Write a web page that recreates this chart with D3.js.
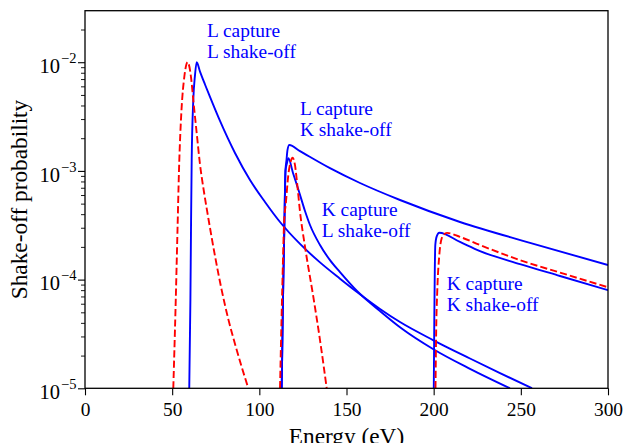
<!DOCTYPE html>
<html>
<head>
<meta charset="utf-8">
<script src="https://cdn.jsdelivr.net/npm/d3@7"></script>
<style>
  body { margin: 0; background: #fff; }
  svg text { font-family: "Liberation Serif", "Times New Roman", serif; }
</style>
</head>
<body>
<svg id="chart" width="624" height="443"></svg>
<script>
// Shake-off probability versus energy, points as [energy (eV), probability]

// L capture, L shake-off (solid)
const lCapLShake = [
  [59.8, 1.0e-5], [60.46, 6.5e-5], [60.8, 2.86e-4], [61.2, 1.26e-3], [62.12, 4.49e-3],
  [63.1, 7.62e-3], [64.07, 1.0e-2], [65.97, 8.2e-3], [68.83, 6.24e-3], [71.7, 4.79e-3],
  [77.44, 2.88e-3], [86.04, 1.46e-3], [94.65, 8.24e-4], [103.25, 5.18e-4], [111.86, 3.39e-4],
  [123.33, 2.13e-4], [134.8, 1.44e-4], [146.27, 1.02e-4], [156.02, 7.69e-5], [169.22, 5.37e-5],
  [180.69, 4.07e-5], [199.62, 2.78e-5], [220.84, 1.88e-5], [238.05, 1.38e-5], [256.4, 1.0e-5]
];

// L capture, K shake-off (solid)
const lCapKShake = [
  [112.83, 1.0e-5], [113.57, 6.5e-5], [114.32, 2.86e-4], [115.01, 1.01e-3], [115.58, 1.26e-3],
  [116.16, 1.56e-3], [117.19, 1.73e-3], [123.33, 1.52e-3], [140.53, 1.06e-3], [157.74, 7.74e-4],
  [180.69, 5.4e-4], [215.1, 3.39e-4], [255.26, 2.18e-4], [300, 1.36e-4]
];

// K capture, L shake-off (solid)
const kCapLShake = [
  [112.83, 1.0e-5], [113.57, 6.5e-5], [114.32, 2.86e-4], [115.01, 1.01e-3], [115.87, 1.18e-3],
  [116.62, 1.31e-3], [119.31, 9.57e-4], [122.47, 6.68e-4], [126.19, 4.28e-4], [129.06, 3.18e-4],
  [134.8, 2.08e-4], [140.53, 1.51e-4], [146.27, 1.17e-4], [156.02, 7.85e-5], [169.22, 5.14e-5],
  [181.66, 3.55e-5], [199.62, 2.3e-5], [220.84, 1.51e-5], [243.78, 1.0e-5]
];

// K capture, K shake-off (solid)
const kCapKShake = [
  [200.07, 1.0e-5], [200.36, 4.25e-5], [200.65, 1.22e-4], [200.94, 2.08e-4], [201.74, 2.5e-4],
  [203.23, 2.7e-4], [215.1, 2.22e-4], [226.58, 1.83e-4], [249.52, 1.39e-4], [272.47, 1.08e-4],
  [300, 8.0e-5]
];

// Dashed counterparts
const lCapLShakeAlt = [
  [50.65, 1.0e-5], [51.91, 5.25e-5], [53.06, 2.86e-4], [53.92, 1.02e-3], [55.35, 3.63e-3],
  [56.96, 7.31e-3], [58.91, 1.0e-2], [60.8, 7.31e-3], [62.12, 4.49e-3], [64.07, 2.23e-3],
  [65.96, 1.15e-3], [68.26, 6.4e-4], [70.73, 3.69e-4], [74.57, 1.65e-4], [78.41, 8.01e-5],
  [82.03, 4.44e-5], [86.04, 2.56e-5], [93.67, 1.0e-5]
];

const kCapLShakeAlt = [
  [111.86, 1.0e-5], [112.72, 4.25e-5], [113.57, 1.51e-4], [114.15, 3.18e-4], [115.29, 5.21e-4],
  [116.62, 9.16e-4], [117.99, 1.22e-3], [119.14, 1.32e-3], [120.46, 1.13e-3], [121.78, 7.41e-4],
  [123.33, 4.22e-4], [126.19, 2.01e-4], [130.95, 6.97e-5], [134.8, 2.78e-5], [138.64, 1.0e-5]
];

const kCapKShakeAlt = [
  [201.05, 1.0e-5], [201.45, 3.43e-5], [202.08, 8.0e-5], [203.23, 1.68e-4], [204.61, 2.4e-4],
  [205.93, 2.6e-4], [207.65, 2.69e-4], [215.1, 2.47e-4], [226.58, 2.08e-4], [249.52, 1.51e-4],
  [272.47, 1.16e-4], [300, 8.5e-5]
];

const xTicks = [0, 50, 100, 150, 200, 250, 300];
const yExponents = [-5, -4, -3, -2];

const svg = d3.select("#chart");
const plotLeft = 85, plotRight = 608, plotTop = 10.7, plotBottom = 388.3;

const x = d3.scaleLinear().domain([0, 300]).range([plotLeft, plotRight]);
const y = d3.scaleLog().domain([1e-5, Math.pow(10, -1.526)]).range([plotBottom, plotTop]);

svg.append("defs").append("clipPath").attr("id", "plotArea")
  .append("rect").attr("x", plotLeft).attr("y", plotTop)
  .attr("width", plotRight - plotLeft).attr("height", plotBottom - plotTop);

const line = d3.line()
  .x(d => x(d[0]))
  .y(d => y(d[1]))
  .curve(d3.curveMonotoneX);

const plot = svg.append("g").attr("clip-path", "url(#plotArea)");

[lCapLShake, lCapKShake, kCapLShake, kCapKShake].forEach(s => {
  plot.append("path").datum(s).attr("d", line)
    .attr("fill", "none").attr("stroke", "#0000ff").attr("stroke-width", 1.9)
    .attr("stroke-linejoin", "round");
});

[lCapLShakeAlt, kCapLShakeAlt, kCapKShakeAlt].forEach(s => {
  plot.append("path").datum(s).attr("d", line)
    .attr("fill", "none").attr("stroke", "#ff0000").attr("stroke-width", 1.9)
    .attr("stroke-dasharray", "7.2,3.1");
});

// Annotations
const notes = [
  { e: 70, lp: -1.765, lines: ["L capture", "L shake-off"] },
  { e: 123.3, lp: -2.486, lines: ["L capture", "K shake-off"] },
  { e: 135.8, lp: -3.415, lines: ["K capture", "L shake-off"] },
  { e: 207.5, lp: -4.096, lines: ["K capture", "K shake-off"] }
];
notes.forEach(n => {
  n.lines.forEach((t, i) => {
    svg.append("text")
      .attr("x", x(n.e))
      .attr("y", y(Math.pow(10, n.lp)) + i * 21)
      .attr("fill", "#0000ff")
      .attr("font-size", "19.4px")
      .text(t);
  });
});

// X axis
const xAxis = svg.append("g").attr("transform", `translate(0,${plotBottom})`)
  .call(d3.axisBottom(x).tickValues(xTicks).tickSize(7).tickPadding(7).tickFormat(d3.format("d")));
xAxis.select(".domain").remove();
xAxis.selectAll("line").attr("stroke", "#000").attr("stroke-width", 1.1);
xAxis.selectAll("text").attr("font-size", "19.4px").attr("fill", "#000")
  .style("font-family", '"Liberation Serif", "Times New Roman", serif');

// Y axis: major and minor ticks
const majors = yExponents.map(e => Math.pow(10, e));
const minors = [];
for (let e = -5; e <= -2; e++) {
  for (let m = 2; m <= 9; m++) {
    const v = m * Math.pow(10, e);
    if (v <= y.domain()[1]) minors.push(v);
  }
}
const yMajor = svg.append("g").attr("transform", `translate(${plotLeft},0)`)
  .call(d3.axisLeft(y).tickValues(majors).tickSize(7).tickFormat(""));
yMajor.select(".domain").remove();
yMajor.selectAll("line").attr("stroke", "#000").attr("stroke-width", 1.1);

const yMinor = svg.append("g").attr("transform", `translate(${plotLeft},0)`)
  .call(d3.axisLeft(y).tickValues(minors).tickSize(4).tickFormat(""));
yMinor.select(".domain").remove();
yMinor.selectAll("line").attr("stroke", "#000").attr("stroke-width", 0.9);

yExponents.forEach(e => {
  const t = svg.append("text")
    .attr("x", 76.5)
    .attr("y", y(Math.pow(10, e)) + 10.8)
    .attr("text-anchor", "end")
    .attr("font-size", "20.5px")
    .attr("fill", "#000");
  t.append("tspan").text("10");
  t.append("tspan").attr("dx", 1).attr("dy", -10).attr("font-size", "14.5px").text("\u2212" + Math.abs(e));
});

// Frame
svg.append("rect").attr("x", plotLeft).attr("y", plotTop)
  .attr("width", plotRight - plotLeft).attr("height", plotBottom - plotTop)
  .attr("fill", "none").attr("stroke", "#000").attr("stroke-width", 1.3);

// Axis titles
svg.append("text")
  .attr("x", (plotLeft + plotRight) / 2).attr("y", 443.5)
  .attr("text-anchor", "middle").attr("font-size", "23.3px").attr("fill", "#000")
  .text("Energy (eV)");

svg.append("text")
  .attr("transform", `translate(27,${(plotTop + plotBottom) / 2}) rotate(-90)`)
  .attr("text-anchor", "middle").attr("font-size", "23.3px").attr("fill", "#000")
  .text("Shake-off probability");
</script>
</body>
</html>
